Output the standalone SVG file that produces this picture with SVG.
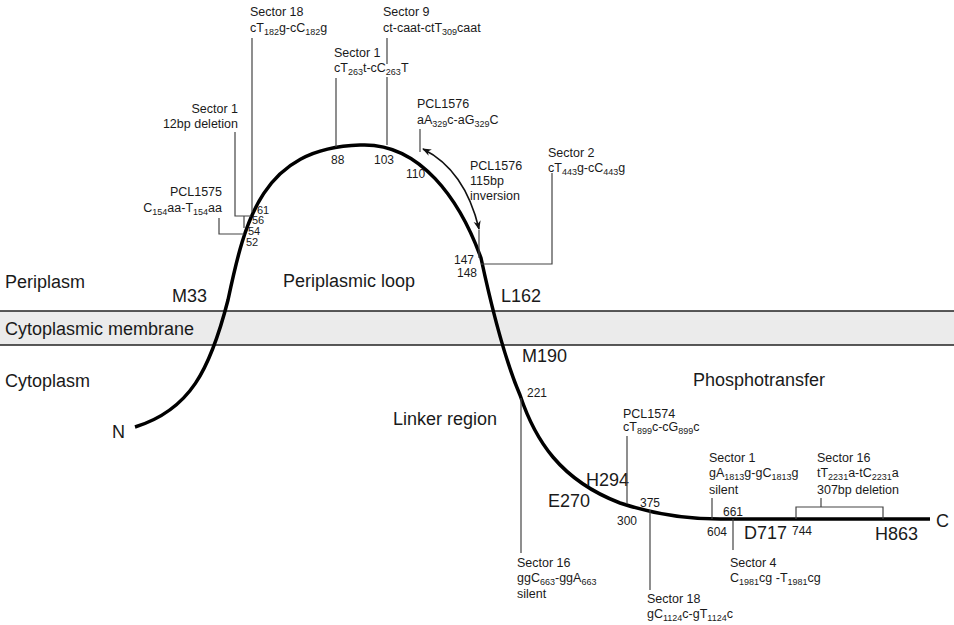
<svg xmlns="http://www.w3.org/2000/svg" width="954" height="625" viewBox="0 0 954 625">
<style>
text{font-family:"Liberation Sans",Arial,sans-serif;fill:#1a1a1a}
.big{font-size:18px}
.sm{font-size:12.5px}
.num{font-size:12px}
.tiny{font-size:11px}
.sub{font-size:9px}
.ln{stroke:#444;stroke-width:1.2;fill:none}
.band{stroke:#222;stroke-width:1.5}
</style>
<defs>
<marker id="ah" viewBox="0 0 10 10" refX="9" refY="5" markerWidth="9" markerHeight="9" orient="auto-start-reverse" markerUnits="userSpaceOnUse">
<path d="M0,1 L10,5 L0,9 L3,5 Z" fill="#111"/>
</marker>
</defs>
<rect width="954" height="625" fill="#fff"/>
<g id="membrane">
<rect x="0" y="311" width="954" height="34" fill="#ebebeb"/>
<line class="band" x1="0" y1="311" x2="954" y2="311"/>
<line class="band" x1="0" y1="345" x2="954" y2="345"/>
</g>
<g id="regions">
<text class="big" x="5" y="288">Periplasm</text>
<text class="big" x="5" y="335">Cytoplasmic membrane</text>
<text class="big" x="5" y="387">Cytoplasm</text>
<text class="big" x="283" y="287">Periplasmic loop</text>
<text class="big" x="393" y="425">Linker region</text>
<text class="big" x="693" y="386">Phosphotransfer</text>
</g>
<g id="protein">
<path d="M135,427 C190,410 210,370 228,300 C245,220 262,148 360,145 C420,142 460,200 481,258 C490,300 505,360 520,395 C535,440 560,480 620,503 C650,513 680,519 720,519 L930,519" fill="none" stroke="#000" stroke-width="3.5"/>
<text class="big" x="112" y="438">N</text>
<text class="big" x="936" y="527">C</text>
<text class="big" x="172" y="302">M33</text>
<text class="big" x="501" y="302">L162</text>
<text class="big" x="522" y="362">M190</text>
<text class="big" x="586" y="486">H294</text>
<text class="big" x="548" y="507">E270</text>
<text class="big" x="744" y="539">D717</text>
<text class="big" x="875" y="540">H863</text>
</g>
<g id="connectors">
<polyline class="ln" points="252,38 252,212"/>
<polyline class="ln" points="235,132 235,216 251,216"/>
<polyline class="ln" points="244,216 244,228"/>
<polyline class="ln" points="219,218 219,234 244,234"/>
<polyline class="ln" points="336,78 336,147"/>
<polyline class="ln" points="387,38 387,64"/>
<polyline class="ln" points="387,77 387,145"/>
<polyline class="ln" points="420,129 420,152"/>
<polyline class="ln" points="479,230 479,258"/>
<polyline class="ln" points="481,264 552,264 552,173"/>
<path d="M423,149 Q465,170 479,229" fill="none" stroke="#111" stroke-width="1.6" marker-start="url(#ah)" marker-end="url(#ah)"/>
<polyline class="ln" points="521,398 521,553"/>
<polyline class="ln" points="627,436 627,504"/>
<polyline class="ln" points="650,510 650,590"/>
<polyline class="ln" points="712,498 712,519"/>
<polyline class="ln" points="733,519 733,550"/>
<polyline class="ln" points="796,519 796,507 883,507 883,519"/>
<polyline class="ln" points="821,498 821,507"/>
</g>
<g id="m-sector18-top">
<text class="sm" x="250" y="16">Sector 18</text>
<text class="sm" x="250" y="32">cT<tspan class="sub" dy="3">182</tspan><tspan dy="-3">g-cC</tspan><tspan class="sub" dy="3">182</tspan><tspan dy="-3">g</tspan></text>
</g>
<g id="m-sector9">
<text class="sm" x="383" y="16">Sector 9</text>
<text class="sm" x="383" y="32">ct-caat-ctT<tspan class="sub" dy="3">309</tspan><tspan dy="-3">caat</tspan></text>
</g>
<g id="m-sector1-263">
<text class="sm" x="334" y="57">Sector 1</text>
<text class="sm" x="334" y="72">cT<tspan class="sub" dy="3">263</tspan><tspan dy="-3">t-cC</tspan><tspan class="sub" dy="3">263</tspan><tspan dy="-3">T</tspan></text>
</g>
<g id="m-sector1-12bp">
<text class="sm" x="238" y="113" text-anchor="end">Sector 1</text>
<text class="sm" x="238" y="128" text-anchor="end">12bp deletion</text>
</g>
<g id="m-pcl1575">
<text class="sm" x="222" y="196" text-anchor="end">PCL1575</text>
<text class="sm" x="222" y="212" text-anchor="end">C<tspan class="sub" dy="3">154</tspan><tspan dy="-3">aa-T</tspan><tspan class="sub" dy="3">154</tspan><tspan dy="-3">aa</tspan></text>
</g>
<g id="m-pcl1576-point">
<text class="sm" x="417" y="108">PCL1576</text>
<text class="sm" x="417" y="124">aA<tspan class="sub" dy="3">329</tspan><tspan dy="-3">c-aG</tspan><tspan class="sub" dy="3">329</tspan><tspan dy="-3">C</tspan></text>
</g>
<g id="m-pcl1576-inv">
<text class="sm" x="470" y="170">PCL1576</text>
<text class="sm" x="470" y="185">115bp</text>
<text class="sm" x="470" y="200">inversion</text>
</g>
<g id="m-sector2">
<text class="sm" x="548" y="157">Sector 2</text>
<text class="sm" x="548" y="172">cT<tspan class="sub" dy="3">443</tspan><tspan dy="-3">g-cC</tspan><tspan class="sub" dy="3">443</tspan><tspan dy="-3">g</tspan></text>
</g>
<g id="m-sector16-663">
<text class="sm" x="517" y="567">Sector 16</text>
<text class="sm" x="517" y="582">ggC<tspan class="sub" dy="2.5">663</tspan><tspan dy="-2.5">-ggA</tspan><tspan class="sub" dy="2.5">663</tspan></text>
<text class="sm" x="517" y="598">silent</text>
</g>
<g id="m-pcl1574">
<text class="sm" x="623" y="418">PCL1574</text>
<text class="sm" x="623" y="431">cT<tspan class="sub" dy="3">899</tspan><tspan dy="-3">c-cG</tspan><tspan class="sub" dy="3">899</tspan><tspan dy="-3">c</tspan></text>
</g>
<g id="m-sector18-1124">
<text class="sm" x="647" y="603">Sector 18</text>
<text class="sm" x="647" y="618">gC<tspan class="sub" dy="3">1124</tspan><tspan dy="-3">c-gT</tspan><tspan class="sub" dy="3">1124</tspan><tspan dy="-3">c</tspan></text>
</g>
<g id="m-sector1-1813">
<text class="sm" x="709" y="462">Sector 1</text>
<text class="sm" x="709" y="477">gA<tspan class="sub" dy="2.5">1813</tspan><tspan dy="-2.5">g-gC</tspan><tspan class="sub" dy="2.5">1813</tspan><tspan dy="-2.5">g</tspan></text>
<text class="sm" x="709" y="494">silent</text>
</g>
<g id="m-sector4">
<text class="sm" x="730" y="567">Sector 4</text>
<text class="sm" x="730" y="582">C<tspan class="sub" dy="3">1981</tspan><tspan dy="-3">cg -T</tspan><tspan class="sub" dy="3">1981</tspan><tspan dy="-3">cg</tspan></text>
</g>
<g id="m-sector16-2231">
<text class="sm" x="817" y="462">Sector 16</text>
<text class="sm" x="817" y="477">tT<tspan class="sub" dy="2.5">2231</tspan><tspan dy="-2.5">a-tC</tspan><tspan class="sub" dy="2.5">2231</tspan><tspan dy="-2.5">a</tspan></text>
<text class="sm" x="817" y="494">307bp deletion</text>
</g>
<g id="positions">
<text class="tiny" x="257" y="214">61</text>
<text class="tiny" x="252" y="224">56</text>
<text class="tiny" x="248" y="235">54</text>
<text class="tiny" x="246" y="246">52</text>
<text class="num" x="331" y="164">88</text>
<text class="num" x="374" y="164">103</text>
<text class="num" x="406" y="178">110</text>
<text class="num" x="454" y="264">147</text>
<text class="num" x="457" y="277">148</text>
<text class="num" x="527" y="397">221</text>
<text class="num" x="617" y="525">300</text>
<text class="num" x="640" y="507">375</text>
<text class="num" x="707" y="536">604</text>
<text class="num" x="723" y="516">661</text>
<text class="num" x="792" y="535">744</text>
</g>
</svg>
